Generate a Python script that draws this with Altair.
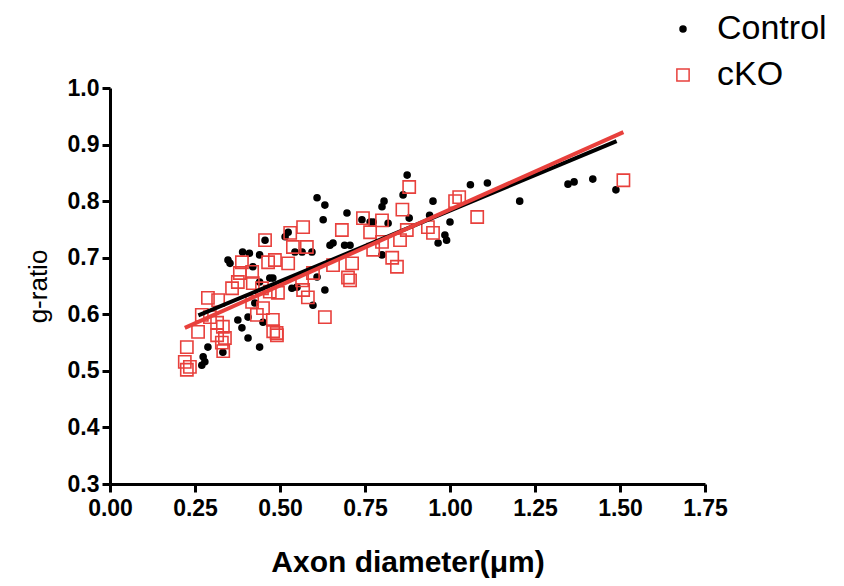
import altair as alt
import pandas as pd

# Control (black dots)
ctrl_x = [0.27, 0.274, 0.279, 0.288, 0.332, 0.347, 0.353, 0.376, 0.388, 0.39, 0.406, 0.406, 0.41, 0.42,
          0.426, 0.44, 0.44, 0.44, 0.45, 0.456, 0.47, 0.479, 0.515, 0.524, 0.535, 0.544, 0.55, 0.565,
          0.594, 0.597, 0.609, 0.609, 0.627, 0.632, 0.632, 0.647, 0.656, 0.69, 0.697, 0.706, 0.741,
          0.765, 0.774, 0.80, 0.80, 0.806, 0.818, 0.862, 0.874, 0.88, 0.94, 0.95, 0.965, 0.985, 0.99,
          1.0, 1.06, 1.11, 1.205, 1.347, 1.365, 1.42, 1.488]
ctrl_y = [0.51, 0.525, 0.516, 0.542, 0.533, 0.696, 0.69, 0.59, 0.576, 0.71, 0.595, 0.558, 0.708, 0.684,
          0.62, 0.705, 0.657, 0.542, 0.586, 0.731, 0.664, 0.664, 0.737, 0.745, 0.646, 0.71, 0.648, 0.71,
          0.71, 0.616, 0.666, 0.806, 0.767, 0.793, 0.643, 0.722, 0.726, 0.722, 0.779, 0.722, 0.767,
          0.763, 0.763, 0.79, 0.705, 0.80, 0.761, 0.811, 0.846, 0.77, 0.775, 0.80, 0.726, 0.74, 0.731,
          0.763, 0.829, 0.832, 0.80, 0.83, 0.834, 0.839, 0.82]

# cKO (red open squares)
cko_x = [0.22, 0.226, 0.235, 0.226, 0.259, 0.27, 0.288, 0.294, 0.315, 0.315, 0.318, 0.329, 0.332, 0.333,
         0.338, 0.359, 0.376, 0.382, 0.388, 0.418, 0.418, 0.42, 0.432, 0.447, 0.45, 0.456, 0.465, 0.47,
         0.479, 0.48, 0.485, 0.49, 0.491, 0.494, 0.524, 0.53, 0.538, 0.565, 0.568, 0.568, 0.579, 0.582,
         0.597, 0.632, 0.656, 0.682, 0.70, 0.706, 0.712, 0.744, 0.765, 0.774, 0.80, 0.80, 0.83, 0.844,
         0.853, 0.86, 0.873, 0.88, 0.935, 0.95, 1.015, 1.027, 1.08, 1.51]
cko_y = [0.516, 0.502, 0.507, 0.542, 0.569, 0.599, 0.629, 0.595, 0.585, 0.563, 0.625, 0.55, 0.578, 0.535,
         0.558, 0.646, 0.657, 0.673, 0.692, 0.675, 0.622, 0.655, 0.599, 0.646, 0.611, 0.731, 0.692, 0.64,
         0.59, 0.57, 0.696, 0.567, 0.563, 0.638, 0.69, 0.744, 0.719, 0.66, 0.754, 0.643, 0.719, 0.63,
         0.673, 0.595, 0.687, 0.749, 0.665, 0.66, 0.69, 0.77, 0.745, 0.714, 0.766, 0.728, 0.70, 0.684,
         0.731, 0.785, 0.749, 0.825, 0.754, 0.744, 0.80, 0.807, 0.772, 0.837]

# Fitted lines (endpoints)
ctrl_fit_x = [0.26, 1.49]
ctrl_fit_y = [0.598, 0.906]
cko_fit_x = [0.22, 1.51]
cko_fit_y = [0.576, 0.922]

groups = ["Control", "cKO"]
RED = "#e8403c"
x_ticks = [0, 0.25, 0.5, 0.75, 1.0, 1.25, 1.5, 1.75]
y_ticks = [0.3, 0.4, 0.5, 0.6, 0.7, 0.8, 0.9, 1.0]

pts = pd.concat([
    pd.DataFrame({"x": ctrl_x, "y": ctrl_y, "group": "Control"}),
    pd.DataFrame({"x": cko_x, "y": cko_y, "group": "cKO"}),
])
fit_ctrl = pd.DataFrame({"x": ctrl_fit_x, "y": ctrl_fit_y})
fit_cko = pd.DataFrame({"x": cko_fit_x, "y": cko_fit_y})

xenc = alt.X("x:Q", scale=alt.Scale(domain=[0, 1.75], nice=False),
             axis=alt.Axis(values=x_ticks, format=".2f", title="Axon diameter(μm)", labelFlush=False,
                           labelPadding=5,
                           titleFontSize=30, titleFontWeight="bold", titlePadding=27))
yenc = alt.Y("y:Q", scale=alt.Scale(domain=[0.3, 1.0], nice=False, zero=False),
             axis=alt.Axis(values=y_ticks, format=".1f", title="g-ratio", labelFlush=False,
                           labelPadding=3,
                           titleFontSize=26, titleFontWeight="normal", titlePadding=16))

leg = alt.Legend(title=None)
points = alt.Chart(pts).mark_point(filled=True, strokeWidth=1.6, opacity=1).encode(
    x=xenc, y=yenc,
    fill=alt.Fill("group:N", scale=alt.Scale(domain=groups, range=["black", "transparent"]), legend=leg),
    stroke=alt.Stroke("group:N", scale=alt.Scale(domain=groups, range=["black", RED]), legend=leg),
    shape=alt.Shape("group:N", scale=alt.Scale(domain=groups, range=["circle", "square"]), legend=leg),
    size=alt.Size("group:N", scale=alt.Scale(domain=groups, range=[36, 150]), legend=leg),
)

line_ctrl = alt.Chart(fit_ctrl).mark_line(color="black", strokeWidth=4).encode(x="x:Q", y="y:Q")
line_cko = alt.Chart(fit_cko).mark_line(color=RED, strokeWidth=4).encode(x="x:Q", y="y:Q")

chart = alt.layer(points, line_ctrl, line_cko).properties(
    width=595, height=396,
    autosize=alt.AutoSizeParams(type="none"),
    padding={"left": 102, "top": 80, "right": 131, "bottom": 94},
).configure_view(stroke=None).configure_axis(
    grid=False, domainColor="black", domainWidth=3, tickColor="black", tickWidth=3, tickSize=8,
    labelFont="Liberation Sans", labelFontWeight="bold", labelFontSize=23, labelColor="black",
    titleFont="Liberation Sans", titleColor="black",
).configure_legend(
    orient="none", legendX=556, legendY=-76, labelFont="Liberation Sans", labelFontSize=34,
    labelColor="black", rowPadding=12, labelOffset=17, labelLimit=300,
)

chart.save("out.html", embed_options={"renderer": "svg", "actions": False})
